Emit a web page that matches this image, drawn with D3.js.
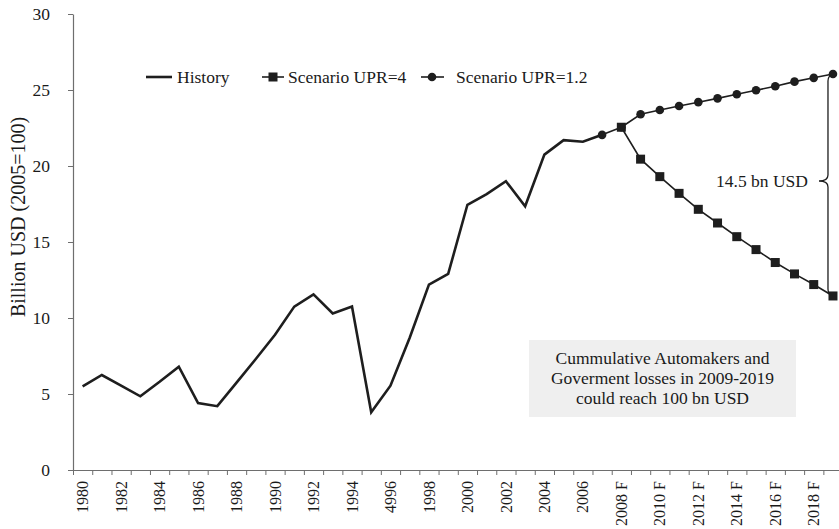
<!DOCTYPE html>
<html>
<head>
<meta charset="utf-8">
<script src="https://cdn.jsdelivr.net/npm/d3@7"></script>
<style>
 body { margin: 0; background: #fff; }
 svg text { font-family: "Liberation Serif", "Times New Roman", serif; fill: #1a1a1a; }
</style>
</head>
<body>
<script>
// categories 1980..2019
var years = d3.range(1980, 2020).map(String);
var tickLabels = ["1980","1982","1984","1986","1988","1990","1992","1994","4996","1998",
                  "2000","2002","2004","2006","2008 F","2010 F","2012 F","2014 F","2016 F","2018 F"];
var yTicks = [0, 5, 10, 15, 20, 25, 30];

// history 1980..2007
var historyYears = d3.range(1980, 2008).map(String);
var historyVals = [5.5, 6.25, 5.55, 4.85, 5.8, 6.8, 4.4, 4.2, 5.75, 7.3,
                   8.9, 10.75, 11.55, 10.3, 10.75, 3.8, 5.55, 8.7, 12.2, 12.9,
                   17.45, 18.15, 19.0, 17.35, 20.75, 21.7, 21.6, 22.05];

// scenario UPR=4, 2008..2019
var upr4Years = d3.range(2008, 2020).map(String);
var upr4Vals = [22.55, 20.45, 19.3, 18.2, 17.15, 16.25, 15.35, 14.5, 13.65, 12.9, 12.2, 11.45];

// scenario UPR=1.2, 2007..2019
var upr12Years = d3.range(2007, 2020).map(String);
var upr12Vals = [22.05, 22.55, 23.4, 23.68, 23.95, 24.2, 24.45, 24.72, 24.98, 25.25, 25.55, 25.8, 26.05];

var W = 839, H = 529;
var plotLeft = 73, plotBottom = 470, plotTop = 14, step = 19.24;

var svg = d3.select("body").append("svg")
    .attr("width", W)
    .attr("height", H);

var x = d3.scaleBand().domain(years).range([plotLeft, plotLeft + years.length * step]).padding(0);
var xb = d3.scaleLinear().domain([0, years.length]).range(x.range());
var y = d3.scaleLinear().domain([0, 30]).range([plotBottom, plotTop]);
var cx = function(yr) { return x(yr) + x.bandwidth() / 2; };

// y axis
var ya = svg.append("g")
    .attr("transform", "translate(" + plotLeft + ",0)")
    .call(d3.axisLeft(y).tickValues(yTicks).tickSize(5).tickSizeOuter(0).tickPadding(18));
ya.select(".domain").attr("stroke", "#6e6e6e").attr("stroke-width", 1.2);
ya.selectAll(".tick line").attr("stroke", "#6e6e6e");
ya.selectAll(".tick text").style("font-size", "17.5px").style("font-family", "Liberation Serif").attr("fill", "#1a1a1a");

// x axis (ticks on band boundaries)
var xa = svg.append("g")
    .attr("transform", "translate(0," + plotBottom + ")")
    .call(d3.axisBottom(xb).tickValues(d3.range(0, years.length + 1)).tickFormat("").tickSize(5).tickSizeOuter(0));
xa.select(".domain").attr("stroke", "#6e6e6e").attr("stroke-width", 1.2);
xa.selectAll(".tick line").attr("stroke", "#6e6e6e");

svg.append("g").selectAll("text")
    .data(tickLabels)
    .enter().append("text")
    .attr("transform", function(d, i) {
        return "translate(" + cx(years[i * 2]) + "," + (plotBottom + 11) + ") rotate(-90)";
    })
    .attr("text-anchor", "end")
    .attr("dy", "0.35em")
    .style("font-size", "16px")
    .text(function(d) { return d; });

// y title
svg.append("text")
    .attr("transform", "translate(18,217) rotate(-90)")
    .attr("text-anchor", "middle")
    .attr("dy", "0.35em")
    .style("font-size", "20px")
    .text("Billion USD (2005=100)");

// lines
var line = d3.line()
    .x(function(d) { return cx(d[0]); })
    .y(function(d) { return y(d[1]); });

var histData = d3.zip(historyYears, historyVals);
var u4Data = d3.zip(upr4Years, upr4Vals);
var u12Data = d3.zip(upr12Years, upr12Vals);

svg.append("path").datum(histData)
    .attr("d", line).attr("fill", "none")
    .attr("stroke", "#1e1e1e").attr("stroke-width", 2.6).attr("stroke-linejoin", "miter");

svg.append("path").datum(u12Data)
    .attr("d", line).attr("fill", "none")
    .attr("stroke", "#1e1e1e").attr("stroke-width", 1.6);

svg.append("path").datum(u4Data)
    .attr("d", line).attr("fill", "none")
    .attr("stroke", "#1e1e1e").attr("stroke-width", 1.6);

svg.append("g").selectAll("circle")
    .data(u12Data)
    .enter().append("circle")
    .attr("cx", function(d) { return cx(d[0]); })
    .attr("cy", function(d) { return y(d[1]); })
    .attr("r", 4.3)
    .attr("fill", "#1e1e1e");

var sq = 9;
svg.append("g").selectAll("rect")
    .data(u4Data)
    .enter().append("rect")
    .attr("x", function(d) { return cx(d[0]) - sq / 2; })
    .attr("y", function(d) { return y(d[1]) - sq / 2; })
    .attr("width", sq).attr("height", sq)
    .attr("fill", "#1e1e1e");

// brace between the two 2019 values
var bx = cx("2019") - 5;
var yTop = y(upr12Vals[upr12Vals.length - 1]);
var yBot = y(upr4Vals[upr4Vals.length - 1]);
var yMid = y((upr12Vals[upr12Vals.length - 1] + upr4Vals[upr4Vals.length - 1]) / 2) - 4;
svg.append("path")
    .attr("d", "M" + (bx + 5) + "," + (yTop + 1) +
               " Q" + bx + "," + (yTop + 1) + " " + bx + "," + (yTop + 7) +
               " L" + bx + "," + (yMid - 6) +
               " Q" + bx + "," + yMid + " " + (bx - 9) + "," + yMid +
               " Q" + bx + "," + yMid + " " + bx + "," + (yMid + 6) +
               " L" + bx + "," + (yBot - 7) +
               " Q" + bx + "," + (yBot - 1) + " " + (bx + 5) + "," + (yBot - 1))
    .attr("fill", "none")
    .attr("stroke", "#1e1e1e")
    .attr("stroke-width", 1.3);

svg.append("text")
    .attr("x", bx - 20).attr("y", yMid)
    .attr("dy", "0.35em")
    .attr("text-anchor", "end")
    .style("font-size", "17.5px")
    .text("14.5 bn USD");

// legend
var ly = 77;
var lg = svg.append("g");
lg.append("line").attr("x1", 146).attr("x2", 172).attr("y1", ly).attr("y2", ly)
    .attr("stroke", "#1e1e1e").attr("stroke-width", 2.6);
lg.append("text").attr("x", 177).attr("y", ly).attr("dy", "0.35em").style("font-size", "17.5px").text("History");

lg.append("line").attr("x1", 262).attr("x2", 284).attr("y1", ly).attr("y2", ly)
    .attr("stroke", "#1e1e1e").attr("stroke-width", 1.6);
lg.append("rect").attr("x", 273 - sq / 2).attr("y", ly - sq / 2).attr("width", sq).attr("height", sq).attr("fill", "#1e1e1e");
lg.append("text").attr("x", 288).attr("y", ly).attr("dy", "0.35em").style("font-size", "17.5px").text("Scenario UPR=4");

lg.append("line").attr("x1", 421).attr("x2", 444).attr("y1", ly).attr("y2", ly)
    .attr("stroke", "#1e1e1e").attr("stroke-width", 1.6);
lg.append("circle").attr("cx", 432).attr("cy", ly).attr("r", 4.3).attr("fill", "#1e1e1e");
lg.append("text").attr("x", 456).attr("y", ly).attr("dy", "0.35em").style("font-size", "17.5px").text("Scenario UPR=1.2");

// note box
var note = ["Cummulative Automakers and", "Goverment losses in 2009-2019", "could reach 100 bn USD"];
svg.append("rect")
    .attr("x", 529).attr("y", 340).attr("width", 267).attr("height", 77)
    .attr("fill", "#efefef");
svg.append("g").selectAll("text")
    .data(note)
    .enter().append("text")
    .attr("x", 662.5)
    .attr("y", function(d, i) { return 358 + i * 19.7; })
    .attr("dy", "0.35em")
    .attr("text-anchor", "middle")
    .style("font-size", "17.5px")
    .text(function(d) { return d; });
</script>
</body>
</html>
